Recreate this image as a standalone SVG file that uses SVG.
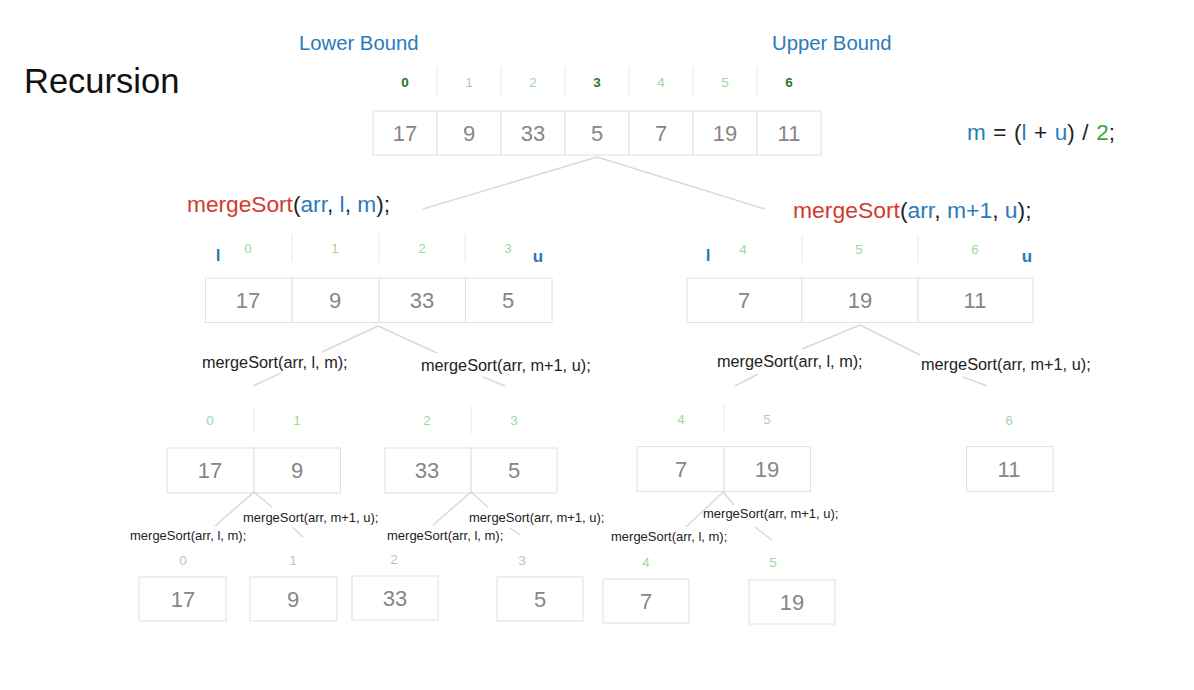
<svg xmlns="http://www.w3.org/2000/svg" width="1194" height="690" viewBox="0 0 1194 690">
<style>
text{font-family:"Liberation Sans",Arial,Helvetica,sans-serif}
.cell{fill:#fff;stroke:#e0e0e0;stroke-width:1}
.sep{stroke:#e8e8e8;stroke-width:1}
.val{font-size:22px;fill:#868686;text-anchor:middle}
.idx{font-size:13.5px;fill:#9fd79f;text-anchor:middle}
.idxb{font-size:13.5px;fill:#1f7a1f;font-weight:bold;text-anchor:middle}
.lu{font-size:17px;fill:#2a78b5;font-weight:bold;text-anchor:middle}
.blue{fill:#2a7bbb}
.red{fill:#d23a2e}
.green{fill:#3aa33a}
.dark{fill:#222}
.call{font-size:16.3px;fill:#222}
.call2{font-size:13px;fill:#222}
.conn{stroke:#d9d9d9;stroke-width:1.5;fill:none}
</style>
<rect width="1194" height="690" fill="#fff"/>

<g id="title"><text x="24" y="93" font-size="34.5" fill="#111">Recursion</text></g>
<g id="lower-bound"><text x="299" y="50" font-size="20.3" class="blue">Lower Bound</text></g>
<g id="upper-bound"><text x="772" y="50" font-size="20.3" class="blue">Upper Bound</text></g>
<g id="formula"><text x="967" y="140" font-size="22.5" word-spacing="1.3" class="dark"><tspan class="blue">m</tspan> = (<tspan class="blue">l</tspan> + <tspan class="blue">u</tspan>) / <tspan class="green">2</tspan>;</text></g>

<g id="array-top">
<line class="sep" x1="437" y1="67" x2="437" y2="96"/><line class="sep" x1="501" y1="67" x2="501" y2="96"/><line class="sep" x1="565" y1="67" x2="565" y2="96"/><line class="sep" x1="629" y1="67" x2="629" y2="96"/><line class="sep" x1="693" y1="67" x2="693" y2="96"/><line class="sep" x1="757" y1="67" x2="757" y2="96"/>
<text class="idxb" x="405" y="87">0</text><text class="idx" x="469" y="87">1</text><text class="idx" x="533" y="87">2</text><text class="idxb" x="597" y="87">3</text><text class="idx" x="661" y="87">4</text><text class="idx" x="725" y="87">5</text><text class="idxb" x="789" y="87">6</text>
<rect class="cell" x="373" y="111" width="64" height="44"/><rect class="cell" x="437" y="111" width="64" height="44"/><rect class="cell" x="501" y="111" width="64" height="44"/><rect class="cell" x="565" y="111" width="64" height="44"/><rect class="cell" x="629" y="111" width="64" height="44"/><rect class="cell" x="693" y="111" width="64" height="44"/><rect class="cell" x="757" y="111" width="64" height="44"/>
<text class="val" x="405" y="141">17</text><text class="val" x="469" y="141">9</text><text class="val" x="533" y="141">33</text><text class="val" x="597" y="141">5</text><text class="val" x="661" y="141">7</text><text class="val" x="725" y="141">19</text><text class="val" x="789" y="141">11</text>
</g>

<g id="call-l1-left"><text x="187" y="212" font-size="22.7" class="dark"><tspan class="red">mergeSort</tspan>(<tspan class="blue">arr</tspan>, <tspan class="blue">l</tspan>, <tspan class="blue">m</tspan>);</text></g>
<g id="call-l1-right"><text x="793" y="218" font-size="22.9" class="dark"><tspan class="red">mergeSort</tspan>(<tspan class="blue">arr</tspan>, <tspan class="blue">m+1</tspan>, <tspan class="blue">u</tspan>);</text></g>

<g id="array-l2-left">
<text class="lu" x="218" y="261">l</text><text class="lu" x="538" y="262">u</text>
<line class="sep" x1="292" y1="234" x2="292" y2="262"/><line class="sep" x1="379" y1="234" x2="379" y2="262"/><line class="sep" x1="465" y1="234" x2="465" y2="262"/>
<text class="idx" x="248" y="253">0</text><text class="idx" x="335" y="253">1</text><text class="idx" x="422" y="253">2</text><text class="idx" x="508" y="253">3</text>
<rect class="cell" x="205.5" y="278" width="86.5" height="44.5"/><rect class="cell" x="292" y="278" width="87" height="44.5"/><rect class="cell" x="379" y="278" width="86.5" height="44.5"/><rect class="cell" x="465.5" y="278" width="86.5" height="44.5"/>
<text class="val" x="248" y="308">17</text><text class="val" x="335" y="308">9</text><text class="val" x="422" y="308">33</text><text class="val" x="508" y="308">5</text>
</g>

<g id="array-l2-right">
<text class="lu" x="708" y="261">l</text><text class="lu" x="1027" y="262">u</text>
<line class="sep" x1="802" y1="235" x2="802" y2="262"/><line class="sep" x1="918" y1="235" x2="918" y2="262"/>
<text class="idx" x="743" y="254">4</text><text class="idx" x="859" y="254">5</text><text class="idx" x="975" y="254">6</text>
<rect class="cell" x="687" y="278" width="115" height="44.5"/><rect class="cell" x="802" y="278" width="116" height="44.5"/><rect class="cell" x="918" y="278" width="115" height="44.5"/>
<text class="val" x="744" y="308">7</text><text class="val" x="860" y="308">19</text><text class="val" x="975" y="308">11</text>
</g>

<g id="call-l2-a"><text class="call" x="202" y="368">mergeSort(arr, l, m);</text></g>
<g id="call-l2-b"><text class="call" x="421" y="371">mergeSort(arr, m+1, u);</text></g>
<g id="call-l2-c"><text class="call" x="717" y="367">mergeSort(arr, l, m);</text></g>
<g id="call-l2-d"><text class="call" x="921" y="370">mergeSort(arr, m+1, u);</text></g>

<g id="array-l3-a">
<line class="sep" x1="254" y1="406" x2="254" y2="434"/>
<text class="idx" x="210" y="425">0</text><text class="idx" x="297" y="425">1</text>
<rect class="cell" x="167" y="448" width="87" height="45"/><rect class="cell" x="254" y="448" width="86.5" height="45"/>
<text class="val" x="210" y="478">17</text><text class="val" x="297" y="478">9</text>
</g>
<g id="array-l3-b">
<line class="sep" x1="471" y1="406" x2="471" y2="434"/>
<text class="idx" x="427" y="425">2</text><text class="idx" x="514" y="425">3</text>
<rect class="cell" x="385" y="448" width="86" height="45"/><rect class="cell" x="471" y="448" width="86" height="45"/>
<text class="val" x="427" y="478">33</text><text class="val" x="514" y="478">5</text>
</g>
<g id="array-l3-c">
<line class="sep" x1="724" y1="405" x2="724" y2="433"/>
<text class="idx" x="681" y="424">4</text><text class="idx" x="767" y="424">5</text>
<rect class="cell" x="637" y="446.5" width="87" height="45"/><rect class="cell" x="724" y="446.5" width="86.5" height="45"/>
<text class="val" x="681" y="477">7</text><text class="val" x="767" y="477">19</text>
</g>
<g id="array-l3-d">
<text class="idx" x="1009" y="425">6</text>
<rect class="cell" x="966.5" y="446.5" width="86.5" height="45"/>
<text class="val" x="1009" y="477">11</text>
</g>

<g id="call-l3-a"><text class="call2" x="130" y="540">mergeSort(arr, l, m);</text></g>
<g id="call-l3-b"><text class="call2" x="243" y="522">mergeSort(arr, m+1, u);</text></g>
<g id="call-l3-c"><text class="call2" x="387" y="540">mergeSort(arr, l, m);</text></g>
<g id="call-l3-d"><text class="call2" x="469" y="522">mergeSort(arr, m+1, u);</text></g>
<g id="call-l3-e"><text class="call2" x="611" y="541">mergeSort(arr, l, m);</text></g>
<g id="call-l3-f"><text class="call2" x="703" y="518">mergeSort(arr, m+1, u);</text></g>

<g id="leaf-0"><text class="idx" x="183" y="565">0</text><rect class="cell" x="139" y="577" width="87" height="44"/><text class="val" x="183" y="607">17</text></g>
<g id="leaf-1"><text class="idx" x="293" y="565">1</text><rect class="cell" x="250" y="577" width="87" height="44"/><text class="val" x="293" y="607">9</text></g>
<g id="leaf-2"><text class="idx" x="394" y="564">2</text><rect class="cell" x="352" y="576" width="86" height="44"/><text class="val" x="395" y="606">33</text></g>
<g id="leaf-3"><text class="idx" x="522" y="565">3</text><rect class="cell" x="497" y="577" width="86" height="44"/><text class="val" x="540" y="607">5</text></g>
<g id="leaf-4"><text class="idx" x="646" y="567">4</text><rect class="cell" x="603" y="579" width="86" height="44"/><text class="val" x="646" y="609">7</text></g>
<g id="leaf-5"><text class="idx" x="773" y="567">5</text><rect class="cell" x="749" y="580" width="86" height="44"/><text class="val" x="792" y="610">19</text></g>

<g id="connectors">
<line class="conn" x1="597" y1="157" x2="423" y2="209"/>
<line class="conn" x1="597" y1="157" x2="765" y2="209"/>
<line class="conn" x1="378" y1="326" x2="322" y2="352"/>
<line class="conn" x1="378" y1="326" x2="437" y2="353"/>
<line class="conn" x1="281" y1="373" x2="253" y2="386"/>
<line class="conn" x1="483" y1="377" x2="505" y2="386"/>
<line class="conn" x1="860" y1="325" x2="802" y2="349"/>
<line class="conn" x1="860" y1="325" x2="920" y2="355"/>
<line class="conn" x1="758" y1="374" x2="735" y2="386"/>
<line class="conn" x1="963" y1="377" x2="987" y2="386"/>
<line class="conn" x1="254" y1="492" x2="215" y2="526"/>
<line class="conn" x1="254" y1="492" x2="272" y2="507"/>
<line class="conn" x1="293" y1="528" x2="303" y2="537"/>
<line class="conn" x1="471" y1="492" x2="433" y2="525"/>
<line class="conn" x1="471" y1="492" x2="488" y2="507"/>
<line class="conn" x1="510" y1="528" x2="520" y2="535"/>
<line class="conn" x1="723" y1="492" x2="686" y2="527"/>
<line class="conn" x1="723" y1="492" x2="734" y2="505"/>
<line class="conn" x1="755" y1="527" x2="772" y2="540"/>
</g>
</svg>
